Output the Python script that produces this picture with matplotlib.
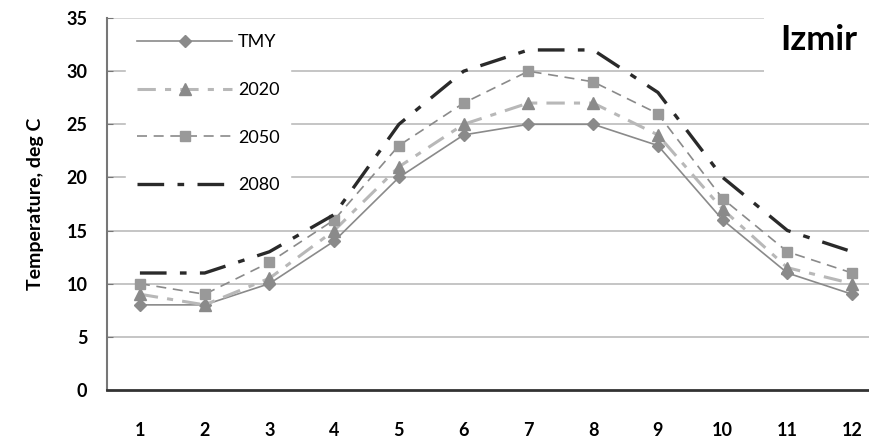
import matplotlib.pyplot as plt

months = [1, 2, 3, 4, 5, 6, 7, 8, 9, 10, 11, 12]
tmy = [8, 8, 10, 14, 20, 24, 25, 25, 23, 16, 11, 9]
y2020 = [9, 8, 10.5, 15, 21, 25, 27, 27, 24, 17, 11.5, 10]
y2050 = [10, 9, 12, 16, 23, 27, 30, 29, 26, 18, 13, 11]
y2080 = [11, 11, 13, 16.5, 25, 30, 32, 32, 28, 20, 15, 13]
yticks = [0, 5, 10, 15, 20, 25, 30, 35]

plt.rcParams['font.family'] = ['Lato', 'DejaVu Sans']

fig = plt.figure(figsize=(8.69, 4.41), dpi=100)
ax = fig.add_axes([0.123, 0.116, 0.877, 0.843])

# gridlines
for v in yticks[1:-1]:
    ax.axhline(v, color="#bbbbbb", linewidth=1.2, zorder=1)
ax.axhline(35, color="#d0d0d0", linewidth=1.2, zorder=1)

ax.plot(months, tmy, color="#8a8a8a", linewidth=1.2, linestyle='solid',
        marker='D', markersize=6, label='TMY', zorder=3)
ax.plot(months, y2020, color="#b8b8b8", linewidth=2.2, linestyle=(0, (6, 3, 2, 3)),
        marker='^', markersize=8, markerfacecolor="#8a8a8a", markeredgecolor="#8a8a8a",
        label='2020', zorder=3)
ax.plot(months, y2050, color="#8a8a8a", linewidth=1.2, linestyle=(0, (6, 4)),
        marker='s', markersize=7, markerfacecolor="#999999", markeredgecolor="#999999",
        label='2050', zorder=3)
ax.plot(months, y2080, color="#2a2a2a", linewidth=2.4, linestyle=(0, (8, 4, 2, 4)),
        label='2080', zorder=4)

ax.set_xlim(0.49, 12.26)
ax.set_ylim(0, 35)
ax.set_xticks(months)
ax.set_yticks(yticks)
ax.tick_params(axis='x', length=0, pad=23, labelsize=13)
ax.tick_params(axis='y', direction='in', length=4, color="#777777", pad=14, labelsize=13)
for lab in ax.get_xticklabels() + ax.get_yticklabels():
    lab.set_fontweight('bold')

ax.spines['top'].set_visible(False)
ax.spines['right'].set_visible(False)
ax.spines['left'].set_color("#777777")
ax.spines['left'].set_linewidth(1.5)
ax.spines['bottom'].set_color("#333333")
ax.spines['bottom'].set_linewidth(2)

ax.set_ylabel("Temperature, deg C", fontsize=14, fontweight='bold', labelpad=16)

leg = ax.legend(loc='upper left', bbox_to_anchor=(0.025, 0.985), frameon=True,
                handlelength=5.3, labelspacing=1.75, fontsize=13, borderpad=0.6,
                handletextpad=0.3, borderaxespad=0.0)
leg.get_frame().set_facecolor('white')
leg.get_frame().set_edgecolor('white')
leg.get_frame().set_alpha(1)
leg.set_zorder(5)

ax.text(0.985, 0.985, "Izmir", transform=ax.transAxes, ha='right', va='top',
        fontsize=25, fontweight='bold', zorder=6,
        bbox=dict(facecolor='white', edgecolor='none', pad=12))

fig.savefig("out.png", dpi=100)
